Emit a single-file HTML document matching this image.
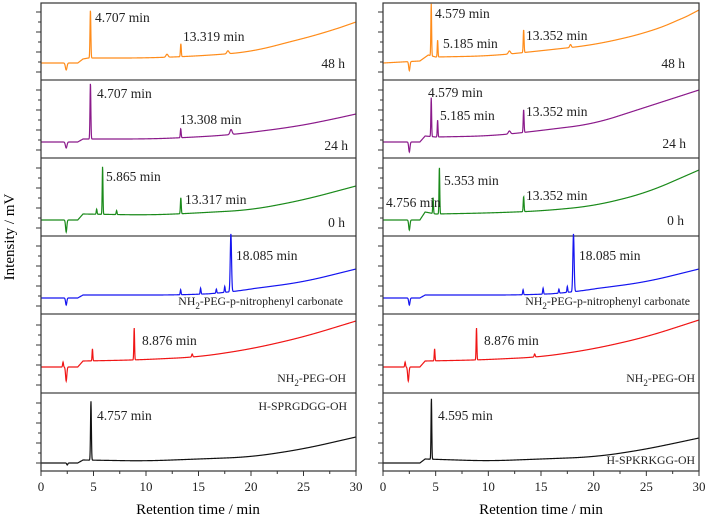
<!DOCTYPE html>
<html><head><meta charset="utf-8"><style>
body{margin:0;background:#fff}
svg{display:block;font-family:"Liberation Serif",serif}
.s{font-size:11.8px}
</style></head><body>
<svg id="chart" width="708" height="520" viewBox="0 0 708 520">
<text x="14" y="237" font-size="15" text-anchor="middle" transform="rotate(-90 14 237)">Intensity / mV</text>
<text x="198" y="514" font-size="15" text-anchor="middle">Retention time / min</text>
<text x="541" y="514" font-size="15" text-anchor="middle">Retention time / min</text>
<g id="plots"></g>
<g font-size="13.5" fill="#222">
<text x="95" y="22">4.707 min</text>
<text x="183" y="41">13.319 min</text>
<text x="345" y="68" text-anchor="end">48 h</text>
<text x="97" y="98">4.707 min</text>
<text x="180" y="124">13.308 min</text>
<text x="348" y="150" text-anchor="end">24 h</text>
<text x="106" y="181">5.865 min</text>
<text x="185" y="204">13.317 min</text>
<text x="345" y="227" text-anchor="end">0 h</text>
<text x="236" y="260">18.085 min</text>
<text class="s" x="343" y="305" text-anchor="end">NH<tspan font-size="9" dy="4">2</tspan><tspan dy="-4">-PEG-p-nitrophenyl carbonate</tspan></text>
<text x="142" y="345">8.876 min</text>
<text class="s" x="346" y="382" text-anchor="end">NH<tspan font-size="9" dy="4">2</tspan><tspan dy="-4">-PEG-OH</tspan></text>
<text class="s" x="347" y="410" text-anchor="end">H-SPRGDGG-OH</text>
<text x="97" y="420">4.757 min</text>

<text x="435" y="18">4.579 min</text>
<text x="443" y="48">5.185 min</text>
<text x="526" y="40">13.352 min</text>
<text x="685" y="68" text-anchor="end">48 h</text>
<text x="428" y="97">4.579 min</text>
<text x="440" y="120">5.185 min</text>
<text x="526" y="116">13.352 min</text>
<text x="686" y="148" text-anchor="end">24 h</text>
<text x="386" y="207">4.756 min</text>
<text x="444" y="185">5.353 min</text>
<text x="526" y="200">13.352 min</text>
<text x="684" y="225" text-anchor="end">0 h</text>
<text x="579" y="260">18.085 min</text>
<text class="s" x="690" y="305" text-anchor="end">NH<tspan font-size="9" dy="4">2</tspan><tspan dy="-4">-PEG-p-nitrophenyl carbonate</tspan></text>
<text x="484" y="345">8.876 min</text>
<text class="s" x="695" y="382" text-anchor="end">NH<tspan font-size="9" dy="4">2</tspan><tspan dy="-4">-PEG-OH</tspan></text>
<text x="438" y="420">4.595 min</text>
<text class="s" x="695" y="464" text-anchor="end">H-SPKRKGG-OH</text>
</g>
</svg>
<script>
// x-axis ticks
const xTicks = [0, 5, 10, 15, 20, 25, 30];
// trace order per plot (top to bottom)
const traceColors = ["#ff8c1a", "#8b1a8b", "#1a8a1a", "#1515f0", "#f01515", "#111111"];
// baseline keypoints [time, value] per trace, left plot
const leftBaselines = [
 [[0,0],[3.5,0],[4,4],[4.5,5],[10,5],[15,7],[20,11],[24,22],[27,30],[30,41]],
 [[0,0],[3.5,0],[4,3],[10,3],[13,4],[18,7],[24,15],[27,21],[30,28]],
 [[0,0],[3.5,0],[4,6],[10,5],[13,6],[20,10],[25,20],[30,34]],
 [[0,0],[3.5,0],[4,3],[13,3],[18,5],[18.3,7],[20,9],[25,16],[30,29]],
 [[0,0],[3.5,0],[4,6],[9,7],[15,10],[20,18],[25,30],[30,46]],
 [[0,0],[3.5,0],[4,3],[10,2],[20,6],[25,14],[30,26]]
];
// peaks [time, height, width(min)] per trace, left plot
const leftPeaks = [
 [[2.4,-7,0.15],[4.707,48,0.08],[12,3,0.2],[13.319,13,0.08],[17.8,3,0.2]],
 [[2.4,-6,0.15],[4.707,56,0.08],[13.308,9,0.08],[18.1,5,0.2]],
 [[2.4,-12,0.12],[5.3,5,0.08],[5.865,48,0.07],[7.2,4,0.08],[13.317,16,0.08]],
 [[2.4,-7,0.12],[13.3,5,0.08],[15.2,6,0.08],[16.7,4,0.08],[17.5,6,0.08],[18.085,58,0.12]],
 [[2.1,5,0.08],[2.4,-14,0.12],[4.9,12,0.07],[8.876,32,0.07],[14.4,3,0.1]],
 [[2.5,-2,0.1],[4.757,59,0.08]]
];
// right plot
const rightBaselines = [
 [[0,0],[3.5,2],[4.3,8],[5,6],[10,7],[13,10],[20,18],[25,30],[28,42],[30,53]],
 [[0,0],[3.5,0],[4,6],[5,5],[10,6],[13,9],[20,18],[25,35],[30,52]],
 [[0,0],[3.5,0],[4,8],[5,6],[10,7],[15,9],[20,14],[25,27],[30,50]],
 [[0,0],[3.5,0],[4,3],[13,3],[18,5],[18.3,7],[20,9],[25,16],[30,29]],
 [[0,0],[3.5,0],[4,6],[9,7],[15,10],[20,18],[25,30],[30,47]],
 [[0,0],[3.5,0],[4,4],[10,2],[20,6],[24,12],[26,16],[30,25]]
];
const rightPeaks = [
 [[2.5,-9,0.12],[4.579,52,0.07],[5.185,17,0.07],[12,3,0.2],[13.352,23,0.08],[17.8,3,0.15]],
 [[2.5,-10,0.12],[4.579,39,0.07],[5.185,17,0.07],[12,3,0.2],[13.352,23,0.08]],
 [[2.5,-10,0.12],[4.756,16,0.07],[5.353,47,0.07],[13.352,15,0.08]],
 [[2.5,-7,0.12],[13.3,5,0.08],[15.2,6,0.08],[16.7,4,0.08],[17.5,6,0.08],[18.085,58,0.12]],
 [[2.1,5,0.08],[2.4,-14,0.12],[4.9,12,0.07],[8.876,32,0.07],[14.4,3,0.1]],
 [[4.595,61,0.07]]
];
const panelTops = [3, 80, 158, 236, 314, 393, 471];
const baseOffsets = [60, 62, 62, 62, 53, 70];

const NS = "http://www.w3.org/2000/svg";
const root = document.getElementById("plots");
function mk(tag, attrs, parent){const e=document.createElementNS(NS,tag);for(const k in attrs)e.setAttribute(k,attrs[k]);(parent||root).appendChild(e);return e;}

function baseRaw(b,t){if(t<=b[0][0])return b[0][1];for(let i=1;i<b.length;i++){if(t<=b[i][0]){const a=b[i-1],c=b[i];return a[1]+(c[1]-a[1])*(t-a[0])/(c[0]-a[0]);}}return b[b.length-1][1];}
function baseAt(b,t){
  if(t<6) return baseRaw(b,t);
  const w=Math.min(2,t-5,30-t+0.0001); let s=0,n=0;
  for(let k=-4;k<=4;k++){s+=baseRaw(b,t+w*k/4);n++;}
  return s/n;
}
function valAt(b,pk,t){let v=baseAt(b,t);for(const p of pk){const d=(t-p[0])/p[2];v+=p[1]*Math.exp(-d*d*2);}return v;}

function drawPlot(x0, x1, baselines, peaks, side){
  const xs = t => x0 + (x1-x0)*t/30;
  const g = mk("g",{});
  
  
  for(let i=0;i<6;i++){
    const top=panelTops[i], bot=panelTops[i+1];
    const by = top + baseOffsets[i];
    const ys = v => by - v;
    for(let k=0,y=bot-8;y>top+2;k++,y-=10){
      const tk=mk("line",{x1:x0-(k%2?3:5),x2:x0,y1:y,y2:y,stroke:"#333","stroke-width":1},g);
      
      
    }
    let d="";
    const t0 = i>=3&&i<=4?1.7:0;
    for(let t=t0;t<=30.0001;t+=0.02){d+=(d?"L":"M")+xs(t).toFixed(2)+","+ys(valAt(baselines[i],peaks[i],t)).toFixed(2);}
    if(t0>0){d="M"+xs(0)+","+ys(0)+"L"+d.slice(1);}
    const p=mk("path",{d:d,fill:"none",stroke:traceColors[i],"stroke-width":1.2},g);
    
    
    if(i<5){
      const s=mk("line",{x1:x0,x2:x1,y1:bot,y2:bot,stroke:"#444","stroke-width":1.3},g);
      
      
    }
  }
  const fr=mk("rect",{x:x0,y:panelTops[0],width:x1-x0,height:panelTops[6]-panelTops[0],fill:"none",stroke:"#333","stroke-width":1.2},g);
  
  
  for(let t=0;t<=30;t+=2.5){
    const major = t%5===0;
    const tk=mk("line",{x1:xs(t),x2:xs(t),y1:471,y2:471+(major?5:3),stroke:"#333","stroke-width":1},g);
    
    
  }
  for(const t of xTicks){
    const tl=mk("text",{x:xs(t),y:491,"font-size":13,"text-anchor":"middle",fill:"#222"},g);
    tl.textContent=t;
    
    
  }
}
drawPlot(41, 356, leftBaselines, leftPeaks, "left");
drawPlot(383, 699, rightBaselines, rightPeaks, "right");
</script>
</body></html>
